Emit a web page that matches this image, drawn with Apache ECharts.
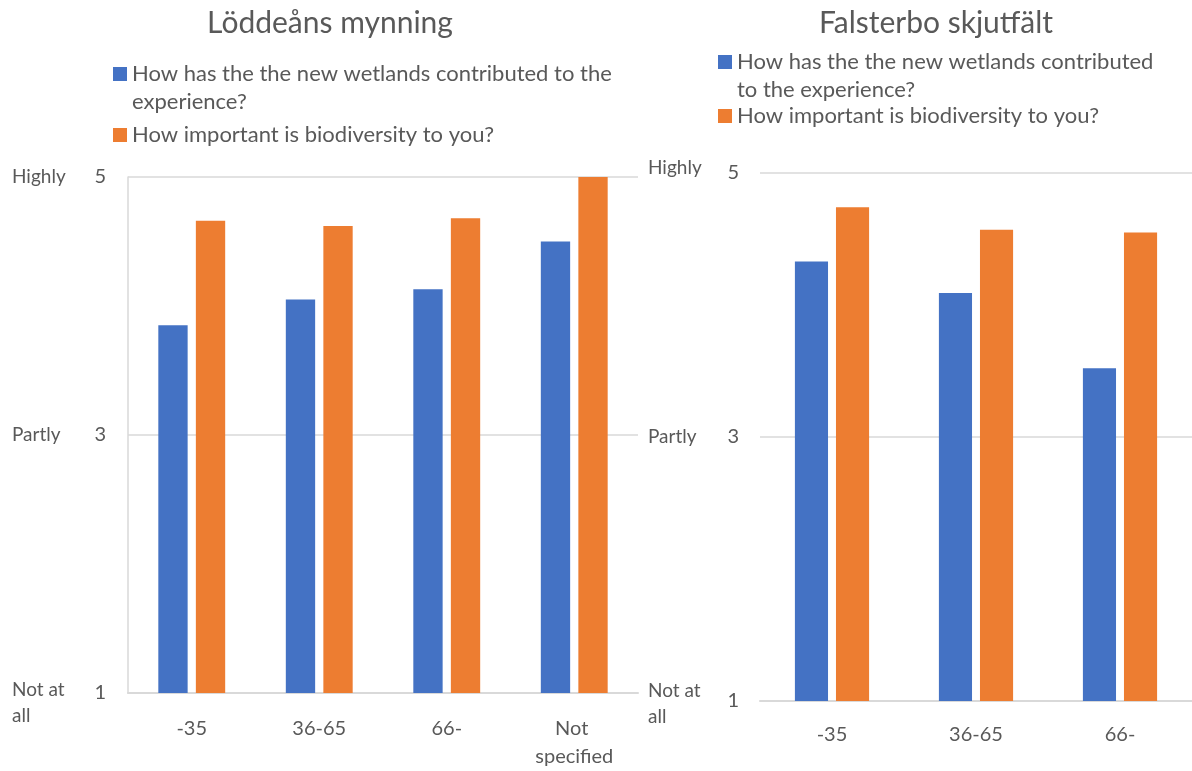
<!DOCTYPE html>
<html>
<head>
<meta charset="utf-8">
<script src="https://cdn.jsdelivr.net/npm/echarts@6/dist/echarts.min.js"></script>
<style>html,body{margin:0;padding:0;background:#fff}#c{width:1192px;height:771px}</style>
</head>
<body>
<div id="c"></div>
<script>
// ---- data ----
const titleLeft = 'Löddeåns mynning';
const titleRight = 'Falsterbo skjutfält';
const seriesWetlands = 'How has the the new wetlands contributed to the experience?';
const seriesBiodiv = 'How important is biodiversity to you?';
const categoriesLeft = ['-35', '36-65', '66-', 'Not specified'];
const wetlandsLeft = [3.85, 4.05, 4.13, 4.50];
const biodivLeft = [4.66, 4.62, 4.68, 5.00];
const categoriesRight = ['-35', '36-65', '66-'];
const wetlandsRight = [4.33, 4.09, 3.52];
const biodivRight = [4.74, 4.57, 4.55];
const yTickNumbers = [1, 3, 5];
const yTickWords = {1: ['Not at', 'all'], 3: ['Partly'], 5: ['Highly']};

// ---- style ----
const FONT = 'Lato';
const TXT = '#595959';
const GRID_C = '#d9d9d9';
const BLUE = '#4472C4';
const ORANGE = '#ED7D31';
const tallIcon = 'path://M0,0H14V14H0Z M0,42L0.01,42Z';

const chart = echarts.init(document.getElementById('c'));

function legend(name, left, top, twoLine, text) {
  return {
    data: [name], orient: 'vertical', left: left, top: top, padding: 0,
    itemWidth: 14, itemHeight: twoLine ? 42 : 14,
    icon: twoLine ? tallIcon : 'rect', itemGap: 0,
    formatter: () => text,
    textStyle: {fontFamily: FONT, fontSize: 22, color: TXT, lineHeight: 28},
    selectedMode: false
  };
}

function numAxis(gridIndex, margin, showLine) {
  return {
    type: 'value', gridIndex: gridIndex, min: 1, max: 5, interval: 2,
    axisLine: {show: showLine, lineStyle: {color: GRID_C, width: 1.5}},
    axisTick: {show: false},
    splitLine: {show: true, lineStyle: {color: GRID_C, width: 1.5}},
    axisLabel: {margin: margin, fontFamily: FONT, fontSize: 20, color: TXT,
      formatter: v => yTickNumbers.includes(v) ? String(v) : ''}
  };
}
function wordAxis(gridIndex, margin, lowShift, highShift) {
  return {
    type: 'value', gridIndex: gridIndex, min: 1, max: 5, interval: 2, position: 'left',
    axisLine: {show: false}, axisTick: {show: false}, splitLine: {show: false},
    axisLabel: {margin: margin, align: 'left', fontFamily: FONT, fontSize: 19, color: TXT,
      formatter: v => {
        const w = yTickWords[v];
        if (!w) return '';
        if (w.length > 1) return '{s|}\n' + w.map(t => '{a|' + t + '}').join('\n');
        if (v === 5 && highShift) return '{a|' + w[0] + '}\n{h|}';
        return '{a|' + w[0] + '}';
      },
      rich: {
        a: {fontFamily: FONT, fontSize: 19, color: TXT, lineHeight: 26},
        s: {lineHeight: lowShift, height: lowShift},
        h: {lineHeight: highShift, height: highShift}
      }
    }
  };
}
function catAxis(gridIndex, cats, margin) {
  return {
    type: 'category', gridIndex: gridIndex, data: cats,
    axisLine: {lineStyle: {color: GRID_C, width: 2}},
    axisTick: {show: false},
    axisLabel: {margin: margin, fontFamily: FONT, fontSize: 20, color: TXT, lineHeight: 28,
      width: 95, overflow: 'break', interval: 0}
  };
}
function bar(name, data, idx, color, gap) {
  return {
    type: 'bar', name: name, data: data, xAxisIndex: idx, yAxisIndex: idx * 2,
    barWidth: '23%', barGap: gap, itemStyle: {color: color}, silent: true
  };
}

chart.setOption({
  backgroundColor: '#fff',
  animation: false,
  title: [
    {text: titleLeft, left: 325, top: 3, textAlign: 'center',
     textStyle: {fontFamily: FONT, fontSize: 30, fontWeight: 'normal', color: TXT}},
    {text: titleRight, left: 931, top: 3, textAlign: 'center',
     textStyle: {fontFamily: FONT, fontSize: 30, fontWeight: 'normal', color: TXT}}
  ],
  legend: [
    legend(seriesWetlands, 113, 60, true, 'How has the the new wetlands contributed to the\nexperience?'),
    legend(seriesBiodiv, 113, 121, false, seriesBiodiv),
    legend(seriesWetlands, 718, 48, true, 'How has the the new wetlands contributed\nto the experience?'),
    legend(seriesBiodiv, 718, 102, false, seriesBiodiv)
  ],
  grid: [
    {left: 128, right: 554, top: 177, bottom: 75},
    {left: 760, right: -4, top: 173, bottom: 70}
  ],
  xAxis: [catAxis(0, categoriesLeft, 22), catAxis(1, categoriesRight, 20)],
  yAxis: [
    numAxis(0, 22, true), wordAxis(0, 116, 20, 0),
    numAxis(1, 21, false), wordAxis(1, 112, 5, 10)
  ],
  series: [
    bar(seriesWetlands, wetlandsLeft, 0, BLUE, '28%'),
    bar(seriesBiodiv, biodivLeft, 0, ORANGE, '28%'),
    bar(seriesWetlands, wetlandsRight, 1, BLUE, '24%'),
    bar(seriesBiodiv, biodivRight, 1, ORANGE, '24%')
  ]
});
</script>
</body>
</html>
